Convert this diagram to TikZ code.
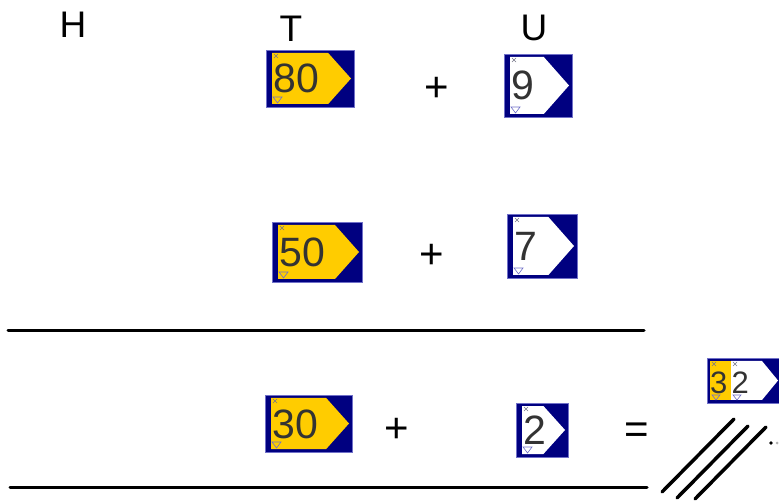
\documentclass[tikz,border=0pt]{standalone}
\usepackage{fontspec}
\setmainfont{Liberation Sans}
\usetikzlibrary{positioning}
\definecolor{cardNavy}{HTML}{000080}
\definecolor{cardEdge}{HTML}{7070C8}
\definecolor{cardGold}{HTML}{FFCC00}
\definecolor{digitGrey}{HTML}{333333}
\definecolor{markGrey}{HTML}{777788}

% one place-value card: name, x, y, width, height, face colour, digits
\newcommand{\placecard}[7]{%
  \fill[cardNavy] (#2,#3) rectangle ++(#4,#5);
  \draw[cardedge] (#2,#3) rectangle ++(#4,#5);
  \fill[#6] (#2+6,#3+3) -- ({#2+#4-3-0.4*#5},#3+3) -- (#2+#4-3,#3+#5/2)
    -- ({#2+#4-3-0.4*#5},#3+#5-3) -- (#2+6,#3+#5-3) -- cycle;
  \node[cardnum, anchor=base west] (#1) at (#2+7.5,#3+#5/2+14.5) {#7};
  \draw[markx] (#2+8,#3+4) -- ++(4,4) (#2+12,#3+4) -- ++(-4,4);
  \draw[marktri] (#2+7,#3+#5-10) -- ++(9,0) -- ++(-4.5,6) -- cycle;
}

\begin{document}
\begin{tikzpicture}[
    x=1pt, y=-1pt,
    every node/.style={inner sep=0pt},
    colhead/.style={font=\fontsize{37}{40}\selectfont},
    opsign/.style={font=\fontsize{42}{44}\selectfont},
    cardnum/.style={font=\fontsize{41}{44}\selectfont, text=digitGrey},
    smallnum/.style={font=\fontsize{31}{34}\selectfont, text=digitGrey},
    cardedge/.style={draw=cardEdge, line width=0.8pt},
    markx/.style={draw=markGrey, line width=0.5pt},
    marktri/.style={draw=cardEdge, line width=0.6pt},
    rule/.style={line width=3pt, line cap=round},
    slash/.style={line width=3.5pt, line cap=round},
  ]
  \useasboundingbox (0,0) rectangle (779,502);

  % column headings
  \node[colhead] (hhead) at (73,25) {H};
  \node[colhead] (thead) at (291,29) {T};
  \node[colhead] (uhead) at (534,28) {U};

  % first number
  \placecard{eighty}{266}{50}{88}{57}{cardGold}{80}
  \node[opsign] (plusA) at (437,89) {+};
  \placecard{nine}{504}{54}{68}{63}{white}{9}

  % second number
  \placecard{fifty}{272}{222}{90}{60}{cardGold}{50}
  \node[opsign] (plusB) at (432,256) {+};
  \placecard{seven}{507}{214}{70}{64}{white}{7}

  \coordinate (ruleAl) at (8,331);
  \coordinate (ruleAr) at (644,331);
  \draw[rule] (ruleAl) -- (ruleAr);

  % result
  \placecard{thirty}{265}{395}{87}{57}{cardGold}{30}
  \node[opsign] (plusC) at (397,430) {+};
  \placecard{two}{516}{403}{52}{54}{white}{2}
  \node[opsign] (equal) at (637,433) {=};

  % stacked card 32
  \fill[cardNavy] (707,358) rectangle (800,403);
  \draw[cardedge] (707,358) rectangle (800,403);
  \fill[cardGold] (710,361) rectangle (731,400);
  \fill[white] (731,361) -- (762,361) -- (778,380.5) -- (762,400) -- (731,400) -- cycle;
  \node[smallnum, anchor=base west] (three) at (710,393) {3};
  \node[smallnum, anchor=base west] (twoB) at (731.5,393) {2};
  \foreach \mx in {712,733} {
    \draw[markx] (\mx,362) -- ++(4,4) (\mx+4,362) -- ++(-4,4);
    \draw[marktri] (\mx,395) -- ++(8,0) -- ++(-4,5) -- cycle;
  }

  \coordinate (ruleBl) at (10,487);
  \coordinate (ruleBr) at (647,487);
  \draw[rule] (ruleBl) -- (ruleBr);

  % strokes after the result
  \draw[slash] (662,492) -- (734,419);
  \draw[slash] (677,498) -- (748,426);
  \draw[slash] (695,499) -- (766,427);
  \fill (771,443) circle (1.8);
  \fill[black!30] (777,443) circle (1.5);
\end{tikzpicture}
\end{document}
